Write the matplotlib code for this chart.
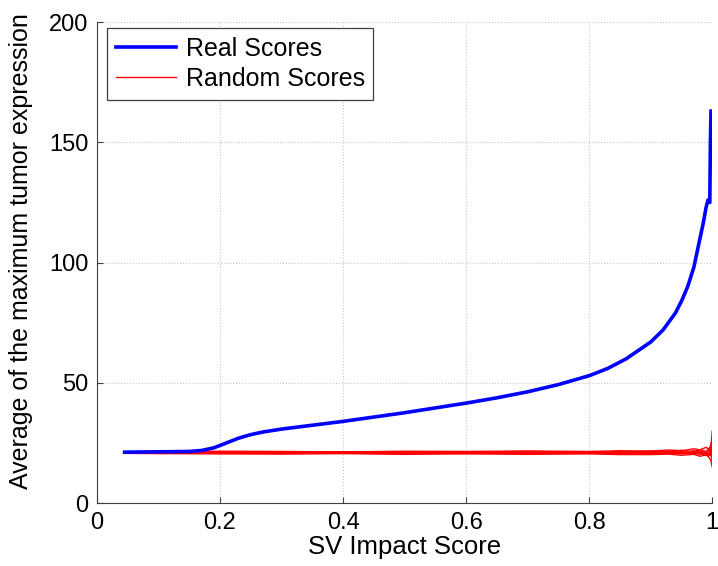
import matplotlib.pyplot as plt

plt.rcParams['font.family'] = ['Liberation Sans', 'DejaVu Sans']

# average max tumor expression vs. SV impact score threshold
real_x = [0.045, 0.08, 0.12, 0.15, 0.17, 0.19, 0.21, 0.23, 0.25, 0.27, 0.30, 0.35,
          0.40, 0.45, 0.50, 0.55, 0.60, 0.65, 0.70, 0.75, 0.80, 0.83, 0.86, 0.88,
          0.90, 0.92, 0.94, 0.95, 0.96, 0.97, 0.98, 0.985, 0.99, 0.993, 0.996,
          0.997, 0.998]
real_y = [21.2, 21.3, 21.4, 21.5, 21.9, 23.0, 25.0, 27.0, 28.5, 29.6, 30.8, 32.4,
          34.0, 35.8, 37.6, 39.6, 41.6, 43.8, 46.3, 49.3, 53.0, 56.0, 60.0, 63.5,
          67.0, 72.0, 79.0, 84.0, 90.0, 98.0, 110.0, 116.0, 123.0, 126.0, 125.0,
          150.0, 163.0]

rand_x = [0.045, 0.1, 0.2, 0.3, 0.4, 0.5, 0.6, 0.7, 0.8, 0.85, 0.9, 0.93,
          0.95, 0.97, 0.98, 0.99, 0.995, 0.998, 1.0]
rand_runs = [
    [21.0, 21.3, 21.1, 20.9, 21.2, 20.9, 21.3, 21.0, 21.4, 21.0, 21.6, 21.1, 22.0, 21.3, 22.3, 21.5, 22.8, 24.0, 30.0],
    [20.7, 20.6, 20.5, 20.4, 20.6, 20.3, 20.5, 20.3, 20.5, 20.2, 20.2, 20.4, 19.9, 20.3, 19.5, 20.1, 19.0, 17.5, 15.0],
    [21.3, 21.5, 21.6, 21.5, 21.3, 21.6, 21.5, 21.7, 21.5, 21.8, 21.7, 22.1, 21.8, 22.6, 22.2, 23.2, 22.4, 21.0, 26.0],
    [20.9, 20.7, 20.9, 21.0, 20.7, 21.0, 20.7, 20.8, 20.7, 21.0, 20.6, 20.9, 20.5, 21.0, 20.3, 20.8, 19.7, 22.5, 18.0],
    [21.1, 21.0, 21.3, 21.2, 21.4, 21.1, 21.2, 21.5, 21.0, 21.4, 21.0, 21.6, 20.9, 21.8, 21.2, 20.6, 21.9, 19.5, 23.0],
    [20.8, 21.0, 20.7, 20.7, 20.9, 20.6, 20.9, 20.6, 20.9, 20.6, 21.1, 20.5, 21.3, 20.4, 20.9, 19.8, 20.6, 23.5, 17.0],
    [21.2, 20.9, 21.0, 21.3, 21.0, 21.2, 21.0, 21.1, 21.2, 20.9, 21.3, 20.8, 21.4, 20.8, 21.6, 21.1, 20.2, 25.0, 19.0],
]

fig = plt.figure(figsize=(7.18, 5.66), dpi=100)
ax = fig.add_axes([0.135, 0.111, 0.857, 0.85])

ax.plot(real_x, real_y, color='#0000ff', lw=2.6, label='Real Scores', zorder=3)
for i, run in enumerate(rand_runs):
    ax.plot(rand_x, run, color='#ff0000', lw=1.0,
            label='Random Scores' if i == 0 else None, zorder=2)

ax.set_xlim(0, 1)
ax.set_ylim(0, 200)
ax.set_xticks([0, 0.2, 0.4, 0.6, 0.8, 1])
ax.set_xticklabels(['0', '0.2', '0.4', '0.6', '0.8', '1'])
ax.set_yticks([0, 50, 100, 150, 200])
ax.grid(True, color='#c8c8c8', linestyle=':', linewidth=0.8)
ax.tick_params(direction='in', labelsize=17, length=4, color='#404040', pad=6)
for s in ['left', 'bottom']:
    ax.spines[s].set_color('#404040')
for s in ['top', 'right']:
    ax.spines[s].set_visible(False)

ax.set_xlabel('SV Impact Score', fontsize=18.5, labelpad=1)
ax.set_ylabel('Average of the maximum tumor expression', fontsize=18)
ax.yaxis.set_label_coords(-0.104, 0.524)

leg = ax.legend(loc='upper left', fontsize=18, fancybox=False, framealpha=1,
                edgecolor='#404040', handlelength=2.4, borderpad=0.35,
                labelspacing=0.25, handletextpad=0.4, borderaxespad=0,
                bbox_to_anchor=(0.016, 0.988))
leg.get_frame().set_linewidth(0.9)

fig.savefig('out.png', dpi=100)
plt.close(fig)
